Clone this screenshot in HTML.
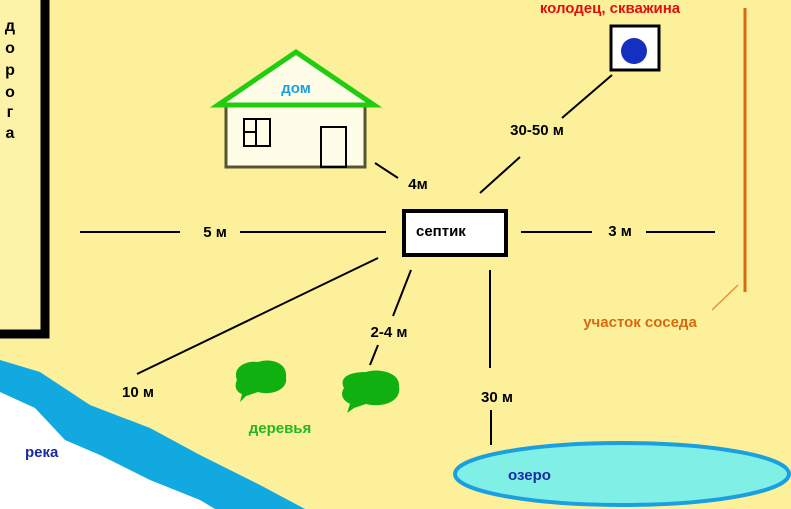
<!DOCTYPE html>
<html><head><meta charset="utf-8"><style>
html,body{margin:0;padding:0;background:#fdf09a}
svg{display:block}
text{font-family:"Liberation Sans","DejaVu Sans",sans-serif;font-weight:bold}
</style></head><body>
<svg width="791" height="509" viewBox="0 0 791 509" xmlns="http://www.w3.org/2000/svg">
<rect width="791" height="509" fill="#fdf09a"/>
<rect x="0" y="0" width="40" height="330" fill="#fdf3a8"/>
<path d="M45 0 V334 H0" fill="none" stroke="#000" stroke-width="9"/>
<g font-size="16" fill="#000" text-anchor="middle">
<text x="10" y="31">д</text><text x="10" y="53">о</text><text x="10" y="75">р</text>
<text x="10" y="97">о</text><text x="10" y="117">г</text><text x="10" y="138">а</text></g>
<!-- river -->
<path d="M0 360 L40 372 L90 405 L150 428 L200 455 L260 485 L305 509 L0 509 Z" fill="#12a9e0"/>
<path d="M0 392 L35 408 L65 440 L100 455 L150 480 L200 500 L215 509 L0 509 Z" fill="#fff"/>
<text x="25" y="457" font-size="15" fill="#1a2aa0">река</text>
<!-- lake -->
<ellipse cx="622" cy="474" rx="167" ry="31" fill="#80f0e6" stroke="#1aa0e0" stroke-width="4"/>
<text x="508" y="480" font-size="15" fill="#1a2aa0">озеро</text>
<!-- house -->
<rect x="226" y="105" width="139" height="62" fill="#fffde8" stroke="#555533" stroke-width="3"/>
<path d="M218 105 L296 52 L374 105 Z" fill="#fffde8" stroke="#22cc11" stroke-width="5" stroke-linejoin="miter"/>
<rect x="244" y="119" width="26" height="27" fill="none" stroke="#000" stroke-width="2"/>
<line x1="256" y1="119" x2="256" y2="146" stroke="#000" stroke-width="2"/>
<line x1="244" y1="132" x2="256" y2="132" stroke="#000" stroke-width="2"/>
<rect x="321" y="127" width="25" height="40" fill="none" stroke="#000" stroke-width="2"/>
<text x="296" y="93" font-size="15" fill="#1aa0e0" text-anchor="middle">дом</text>
<!-- well -->
<rect x="611" y="26" width="48" height="44" fill="#fff" stroke="#000" stroke-width="3"/>
<circle cx="634" cy="51" r="13" fill="#1530c0"/>
<text x="610" y="13" font-size="15" fill="#e01010" text-anchor="middle">колодец, скважина</text>
<!-- neighbour -->
<line x1="745" y1="8" x2="745" y2="292" stroke="#d86a10" stroke-width="3"/>
<line x1="738" y1="285" x2="712" y2="310" stroke="#e8903a" stroke-width="1.5"/>
<text x="640" y="327" font-size="15" fill="#d86a10" text-anchor="middle" font-weight="normal" style="font-weight:600">участок соседа</text>
<!-- septic -->
<rect x="404" y="211" width="102" height="44" fill="#fff" stroke="#000" stroke-width="4"/>
<text x="416" y="236" font-size="15" fill="#000">септик</text>
<!-- lines -->
<g stroke="#000" stroke-width="2">
<line x1="80" y1="232" x2="180" y2="232"/><line x1="240" y1="232" x2="386" y2="232"/>
<line x1="521" y1="232" x2="592" y2="232"/><line x1="646" y1="232" x2="715" y2="232"/>
<line x1="375" y1="163" x2="398" y2="178"/>
<line x1="480" y1="193" x2="520" y2="157"/><line x1="562" y1="118" x2="612" y2="75"/>
<line x1="378" y1="258" x2="137" y2="374"/>
<line x1="411" y1="270" x2="393" y2="316"/><line x1="378" y1="345" x2="370" y2="365"/>
<line x1="490" y1="270" x2="490" y2="368"/><line x1="491" y1="410" x2="491" y2="445"/>
</g>
<g font-size="15" fill="#000" text-anchor="middle">
<text x="215" y="237">5 м</text>
<text x="620" y="236">3 м</text>
<text x="418" y="189">4м</text>
<text x="537" y="135">30-50 м</text>
<text x="138" y="397">10 м</text>
<text x="389" y="337">2-4 м</text>
<text x="497" y="402">30 м</text>
</g>
<!-- trees -->
<g fill="#10b010">
<path d="M237 380 C232 368 245 360 258 362 C270 358 288 362 286 378 C288 390 270 396 258 392 L246 396 L240 402 L242 394 C236 392 234 386 237 380Z"/>
<path d="M344 388 C338 376 352 372 366 372 C378 368 400 372 399 386 C402 402 382 408 366 404 L354 408 L347 413 L350 404 C342 400 340 394 344 388Z"/>
</g>
<text x="280 " y="433" font-size="15" fill="#22b822" text-anchor="middle">деревья</text>
</svg>
</body></html>
